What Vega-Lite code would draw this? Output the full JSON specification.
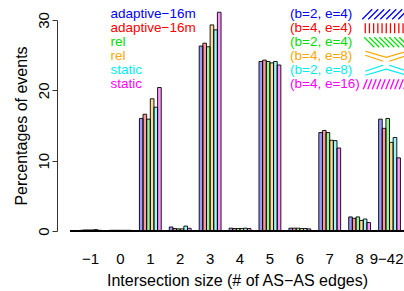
{
  "$schema": "https://vega.github.io/schema/vega-lite/v6.json",
  "autosize": "none",
  "width": 334,
  "height": 211,
  "padding": {"left": 70, "top": 20, "right": 0, "bottom": 60},
  "background": "white",
  "config": {"view": {"stroke": null}, "font": "Liberation Sans"},
  "data": {"values": [
    {"s": "−1", "g": 1, "series": "adaptive−16m (b=2, e=4)", "pct": 0.1},
    {"s": "−1", "g": 2, "series": "adaptive−16m (b=4, e=4)", "pct": 0.15},
    {"s": "−1", "g": 3, "series": "rel (b=2, e=4)", "pct": 0.15},
    {"s": "−1", "g": 4, "series": "rel (b=4, e=8)", "pct": 0.15},
    {"s": "−1", "g": 5, "series": "static (b=2, e=8)", "pct": 0.2},
    {"s": "−1", "g": 6, "series": "static (b=4, e=16)", "pct": 0.1},
    {"s": "0", "g": 1, "series": "adaptive−16m (b=2, e=4)", "pct": 0.1},
    {"s": "0", "g": 2, "series": "adaptive−16m (b=4, e=4)", "pct": 0.1},
    {"s": "0", "g": 3, "series": "rel (b=2, e=4)", "pct": 0.1},
    {"s": "0", "g": 4, "series": "rel (b=4, e=8)", "pct": 0.1},
    {"s": "0", "g": 5, "series": "static (b=2, e=8)", "pct": 0.1},
    {"s": "0", "g": 6, "series": "static (b=4, e=16)", "pct": 0.1},
    {"s": "1", "g": 1, "series": "adaptive−16m (b=2, e=4)", "pct": 16.0},
    {"s": "1", "g": 2, "series": "adaptive−16m (b=4, e=4)", "pct": 16.6},
    {"s": "1", "g": 3, "series": "rel (b=2, e=4)", "pct": 15.9},
    {"s": "1", "g": 4, "series": "rel (b=4, e=8)", "pct": 18.8},
    {"s": "1", "g": 5, "series": "static (b=2, e=8)", "pct": 17.6},
    {"s": "1", "g": 6, "series": "static (b=4, e=16)", "pct": 20.4},
    {"s": "2", "g": 1, "series": "adaptive−16m (b=2, e=4)", "pct": 0.57},
    {"s": "2", "g": 2, "series": "adaptive−16m (b=4, e=4)", "pct": 0.35},
    {"s": "2", "g": 3, "series": "rel (b=2, e=4)", "pct": 0.3},
    {"s": "2", "g": 4, "series": "rel (b=4, e=8)", "pct": 0.3},
    {"s": "2", "g": 5, "series": "static (b=2, e=8)", "pct": 0.7},
    {"s": "2", "g": 6, "series": "static (b=4, e=16)", "pct": 0.38},
    {"s": "3", "g": 1, "series": "adaptive−16m (b=2, e=4)", "pct": 26.3},
    {"s": "3", "g": 2, "series": "adaptive−16m (b=4, e=4)", "pct": 26.7},
    {"s": "3", "g": 3, "series": "rel (b=2, e=4)", "pct": 26.2},
    {"s": "3", "g": 4, "series": "rel (b=4, e=8)", "pct": 29.3},
    {"s": "3", "g": 5, "series": "static (b=2, e=8)", "pct": 28.6},
    {"s": "3", "g": 6, "series": "static (b=4, e=16)", "pct": 31.1},
    {"s": "4", "g": 1, "series": "adaptive−16m (b=2, e=4)", "pct": 0.4},
    {"s": "4", "g": 2, "series": "adaptive−16m (b=4, e=4)", "pct": 0.35},
    {"s": "4", "g": 3, "series": "rel (b=2, e=4)", "pct": 0.35},
    {"s": "4", "g": 4, "series": "rel (b=4, e=8)", "pct": 0.35},
    {"s": "4", "g": 5, "series": "static (b=2, e=8)", "pct": 0.4},
    {"s": "4", "g": 6, "series": "static (b=4, e=16)", "pct": 0.35},
    {"s": "5", "g": 1, "series": "adaptive−16m (b=2, e=4)", "pct": 24.1},
    {"s": "5", "g": 2, "series": "adaptive−16m (b=4, e=4)", "pct": 24.3},
    {"s": "5", "g": 3, "series": "rel (b=2, e=4)", "pct": 24.1},
    {"s": "5", "g": 4, "series": "rel (b=4, e=8)", "pct": 23.9},
    {"s": "5", "g": 5, "series": "static (b=2, e=8)", "pct": 24.1},
    {"s": "5", "g": 6, "series": "static (b=4, e=16)", "pct": 23.6},
    {"s": "6", "g": 1, "series": "adaptive−16m (b=2, e=4)", "pct": 0.4},
    {"s": "6", "g": 2, "series": "adaptive−16m (b=4, e=4)", "pct": 0.4},
    {"s": "6", "g": 3, "series": "rel (b=2, e=4)", "pct": 0.4},
    {"s": "6", "g": 4, "series": "rel (b=4, e=8)", "pct": 0.35},
    {"s": "6", "g": 5, "series": "static (b=2, e=8)", "pct": 0.35},
    {"s": "6", "g": 6, "series": "static (b=4, e=16)", "pct": 0.3},
    {"s": "7", "g": 1, "series": "adaptive−16m (b=2, e=4)", "pct": 14.0},
    {"s": "7", "g": 2, "series": "adaptive−16m (b=4, e=4)", "pct": 14.3},
    {"s": "7", "g": 3, "series": "rel (b=2, e=4)", "pct": 14.0},
    {"s": "7", "g": 4, "series": "rel (b=4, e=8)", "pct": 12.9},
    {"s": "7", "g": 5, "series": "static (b=2, e=8)", "pct": 12.85},
    {"s": "7", "g": 6, "series": "static (b=4, e=16)", "pct": 11.8},
    {"s": "8", "g": 1, "series": "adaptive−16m (b=2, e=4)", "pct": 2.0},
    {"s": "8", "g": 2, "series": "adaptive−16m (b=4, e=4)", "pct": 1.8},
    {"s": "8", "g": 3, "series": "rel (b=2, e=4)", "pct": 2.0},
    {"s": "8", "g": 4, "series": "rel (b=4, e=8)", "pct": 1.5},
    {"s": "8", "g": 5, "series": "static (b=2, e=8)", "pct": 1.7},
    {"s": "8", "g": 6, "series": "static (b=4, e=16)", "pct": 1.2},
    {"s": "9−42", "g": 1, "series": "adaptive−16m (b=2, e=4)", "pct": 15.9},
    {"s": "9−42", "g": 2, "series": "adaptive−16m (b=4, e=4)", "pct": 14.6},
    {"s": "9−42", "g": 3, "series": "rel (b=2, e=4)", "pct": 16.0},
    {"s": "9−42", "g": 4, "series": "rel (b=4, e=8)", "pct": 12.6},
    {"s": "9−42", "g": 5, "series": "static (b=2, e=8)", "pct": 13.3},
    {"s": "9−42", "g": 6, "series": "static (b=4, e=16)", "pct": 10.4}
  ]},
  "layer": [
    {
      "mark": {"type": "bar", "stroke": "black", "strokeWidth": 0.9, "fillOpacity": 0.4},
      "encoding": {
        "x": {
          "field": "s", "type": "ordinal",
          "sort": ["−1", "0", "1", "2", "3", "4", "5", "6", "7", "8", "9−42"],
          "scale": {"paddingInner": 0.27, "paddingOuter": 0.22, "align": 0.73},
          "title": "Intersection size (# of AS−AS edges)",
          "axis": {
            "domain": false, "ticks": false, "labelAngle": 0, "labelPadding": 20, "labelFontSize": 15, "labelColor": "black",
            "labelAlign": {"condition": {"test": "datum.value == '9−42'", "value": "right"}, "value": "center"},
            "labelOffset": {"condition": {"test": "datum.value == '9−42'", "value": 14}, "value": 0},
            "labelOverlap": false,
            "titleFontSize": 16, "titleFontWeight": "normal", "titleColor": "black", "titlePadding": 6
          }
        },
        "xOffset": {"field": "g", "type": "ordinal", "scale": {"paddingInner": 0, "paddingOuter": 0}},
        "y": {
          "field": "pct", "type": "quantitative",
          "scale": {"domain": [0, 30], "nice": false},
          "title": "Percentages of events",
          "axis": {"values": [0, 5, 10, 15, 20, 25, 30], "grid": false, "offset": 13, "tickSize": 5, "domainColor": "#333", "tickColor": "#333", "labelAngle": 270, "labelAlign": "center", "labelBaseline": "bottom", "labelPadding": 1, "labelFontSize": 15, "labelColor": "black", "labelOverlap": false, "titleFontSize": 16, "titleFontWeight": "normal", "titleColor": "black", "titlePadding": 7}
        },
        "color": {
          "field": "series", "type": "nominal",
          "scale": {
            "domain": ["adaptive−16m (b=2, e=4)", "adaptive−16m (b=4, e=4)", "rel (b=2, e=4)", "rel (b=4, e=8)", "static (b=2, e=8)", "static (b=4, e=16)"],
            "range": ["#0000ff", "#ff0000", "#00e000", "#ffa500", "#00eeee", "#ff00ff"]
          },
          "legend": {
            "title": null, "orient": "none", "legendX": 27, "legendY": -11, "padding": 0,
            "symbolSize": 0, "symbolOpacity": 0, "symbolStrokeWidth": 0, "labelOffset": 0,
            "labelFontSize": 13.5, "rowPadding": 0, "clipHeight": 10.5,
            "labelExpr": "split(datum.label, ' (')[0]",
            "encoding": {"labels": {"fill": {"condition": [
              {"test": "datum.value == 'adaptive−16m (b=2, e=4)'", "value": "#0000ff"},
              {"test": "datum.value == 'adaptive−16m (b=4, e=4)'", "value": "#ff0000"},
              {"test": "datum.value == 'rel (b=2, e=4)'", "value": "#00e000"},
              {"test": "datum.value == 'rel (b=4, e=8)'", "value": "#ffa500"},
              {"test": "datum.value == 'static (b=2, e=8)'", "value": "#00eeee"}
            ], "value": "#ff00ff"}}}
          }
        },
        "opacity": {
          "field": "g", "type": "ordinal",
          "scale": {"range": [1, 1, 1, 1, 1, 1]},
          "legend": {
            "title": null, "orient": "none", "legendX": 291, "legendY": -11, "padding": 0,
            "symbolSize": 100, "symbolStrokeWidth": 1.3, "symbolOffset": 18.5, "labelOffset": -103,
            "labelFontSize": 13.5, "rowPadding": 0, "clipHeight": 10.5, "labelAlign": "left",
            "labelExpr": "['(b=2, e=4)','(b=4, e=4)','(b=2, e=4)','(b=4, e=8)','(b=2, e=8)','(b=4, e=16)'][datum.value-1]",
            "encoding": {
              "entries": {"width": {"value": 60}},
              "symbols": {
                "shape": {"condition": [
                  {"test": "datum.value == 1", "value": "M-4.8,1L-2.8,-1M-3.6,1L-1.6,-1M-2.4,1L-0.4,-1M-1.2,1L0.8,-1M0,1L2,-1M1.2,1L3.2,-1M2.4,1L4.4,-1"},
                  {"test": "datum.value == 2", "value": "M-4.2,-1L-4.2,1M-3.36,-1L-3.36,1M-2.52,-1L-2.52,1M-1.68,-1L-1.68,1M-0.84,-1L-0.84,1M0,-1L0,1M0.84,-1L0.84,1M1.68,-1L1.68,1M2.52,-1L2.52,1M3.36,-1L3.36,1M4.2,-1L4.2,1"},
                  {"test": "datum.value == 3", "value": "M-4.4,-1L-2.4,1M-3.4,-1L-1.4,1M-2.4,-1L-0.4,1M-1.4,-1L0.6,1M-0.4,-1L1.6,1M0.6,-1L2.6,1M1.6,-1L3.6,1M2.6,-1L4.6,1"},
                  {"test": "datum.value == 4", "value": "M-4.2,-1L0,0.2L4.2,-1M-4.2,-0.2L-0.6,1M0.6,1L4.2,-0.2"},
                  {"test": "datum.value == 5", "value": "M-4.2,1L0,-0.2L4.2,1M-4.2,0.2L-0.6,-1M0.6,-1L4.2,0.2"}
                ], "value": "M-4.6,1L-3.8,-1M-3.7,1L-2.9,-1M-2.8,1L-2,-1M-1.9,1L-1.1,-1M-1,1L-0.2,-1M-0.1,1L0.7,-1M0.8,1L1.6,-1M1.7,1L2.5,-1M2.6,1L3.4,-1M3.5,1L4.3,-1"},
                "stroke": {"condition": [
                  {"test": "datum.value == 1", "value": "#0000ff"},
                  {"test": "datum.value == 2", "value": "#ff0000"},
                  {"test": "datum.value == 3", "value": "#00e000"},
                  {"test": "datum.value == 4", "value": "#ffa500"},
                  {"test": "datum.value == 5", "value": "#00eeee"}
                ], "value": "#ff00ff"},
                "fill": {"value": "transparent"},
                "strokeWidth": {"value": 1.3}
              },
              "labels": {
                "fill": {"condition": [
                  {"test": "datum.value == 1", "value": "#0000ff"},
                  {"test": "datum.value == 2", "value": "#ff0000"},
                  {"test": "datum.value == 3", "value": "#00e000"},
                  {"test": "datum.value == 4", "value": "#ffa500"},
                  {"test": "datum.value == 5", "value": "#00eeee"}
                ], "value": "#ff00ff"}
              }
            }
          }
        }
      }
    },
    {
      "mark": {"type": "rule", "color": "black", "strokeWidth": 1},
      "encoding": {"y": {"datum": 0}}
    }
  ]
}
